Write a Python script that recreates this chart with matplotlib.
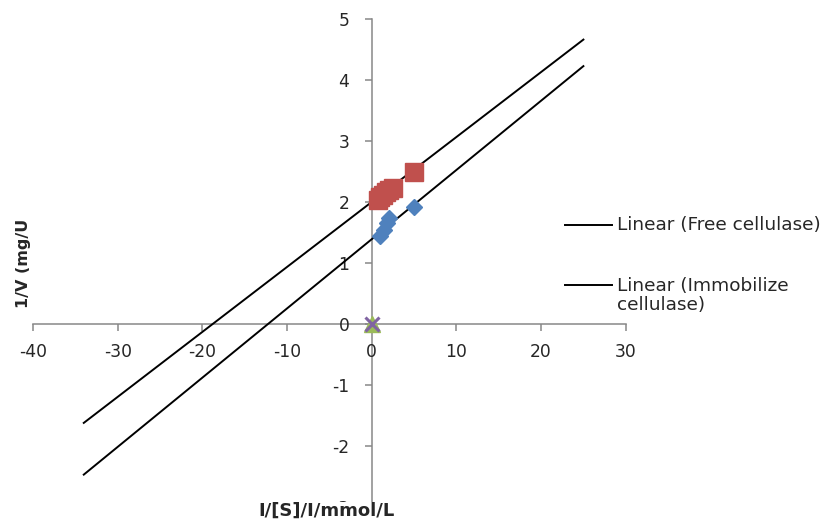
import numpy as np
import matplotlib
matplotlib.use("Agg")
import matplotlib.pyplot as plt
from matplotlib.lines import Line2D

plt.rcParams['font.family'] = ['DejaVu Sans']
plt.rcParams['axes.unicode_minus'] = False

# Lineweaver-Burk data: 1/[S] vs 1/V
free_x = [1.0, 1.4, 1.75, 2.1, 5.0]
free_y = [1.44, 1.54, 1.65, 1.74, 1.92]
immob_x = [0.8, 1.0, 1.3, 1.7, 2.1, 2.5, 5.0]
immob_y = [2.04, 2.08, 2.12, 2.16, 2.20, 2.23, 2.50]
origin_x = [0.0]
origin_y = [0.0]

# Linear trendlines (slope, intercept) and their drawn x-extent
trend_free = (0.1135, 1.39)
trend_immob = (0.1065, 2.00)
trend_range = [-34.0, 25.0]

x_ticks = [-40, -30, -20, -10, 0, 10, 20, 30]
y_ticks = [-3, -2, -1, 0, 1, 2, 3, 4, 5]

fig = plt.figure(figsize=(8.24, 5.22), dpi=100)
ax = fig.add_axes([0.0400, 0.0287, 0.7194, 0.9349])

spine_col = '#878787'
text_col = '#262626'
ax.set_xlim(-40, 30)
ax.set_ylim(-3, 5)
for s in ['top', 'right']:
    ax.spines[s].set_visible(False)
ax.spines['left'].set_position(('data', 0))
ax.spines['bottom'].set_position(('data', 0))
for s in ['left', 'bottom']:
    ax.spines[s].set_color(spine_col)
    ax.spines[s].set_linewidth(1.1)
    ax.spines[s].set_zorder(1)

ax.set_xticks(x_ticks)
ax.set_yticks(y_ticks)
ax.set_xticklabels([str(v) for v in x_ticks])
ax.set_yticklabels([str(v) for v in y_ticks])
ax.tick_params(axis='both', direction='out', length=5, width=1.1,
               color=spine_col, labelsize=12.3, labelcolor=text_col)
ax.tick_params(axis='x', pad=9)
ax.tick_params(axis='y', pad=11)

# trendlines
xr = np.array(trend_range)
for slope, icpt in (trend_free, trend_immob):
    ax.plot(xr, slope * xr + icpt, color='black', lw=1.4, zorder=3,
            clip_on=False)

# data points
ax.plot(free_x, free_y, 'D', color='#4F81BD', ms=8.5, mec='#4F81BD',
        zorder=4, clip_on=False)
ax.plot(immob_x, immob_y, 's', color='#C0504D', ms=12.5, mec='#C0504D',
        zorder=4, clip_on=False)
ax.plot(origin_x, origin_y, '^', color='#9BBB59', ms=11, mec='#9BBB59',
        zorder=5, clip_on=False)
ax.plot(origin_x, origin_y, 'x', color='#8064A2', ms=10, mew=2.2,
        zorder=6, clip_on=False)

# axis titles
fig.text(24 / 824, 1 - 263 / 522, '1/V (mg/U', rotation=90, ha='center',
         va='center', fontsize=11.5, fontweight='bold', color=text_col)
fig.text(327 / 824, 1 - 511 / 522, 'I/[S]/I/mmol/L', ha='center',
         va='center', fontsize=13, fontweight='bold', color=text_col,
         bbox=dict(facecolor='white', edgecolor='none', pad=0), zorder=10)

# legend
W, H = 824, 522
fig.add_artist(Line2D([565 / W, 612 / W], [1 - 225 / H, 1 - 225 / H],
                      color='black', lw=1.4, transform=fig.transFigure))
fig.add_artist(Line2D([565 / W, 612 / W], [1 - 285 / H, 1 - 285 / H],
                      color='black', lw=1.4, transform=fig.transFigure))
fig.text(617 / W, 1 - 225 / H, 'Linear (Free cellulase)', ha='left',
         va='center', fontsize=13.3, color=text_col)
fig.text(617 / W, 1 - 295.5 / H, 'Linear (Immobilize\ncellulase)', ha='left',
         va='center', fontsize=13.3, color=text_col, linespacing=1.12)

fig.savefig('out.png', dpi=100)
